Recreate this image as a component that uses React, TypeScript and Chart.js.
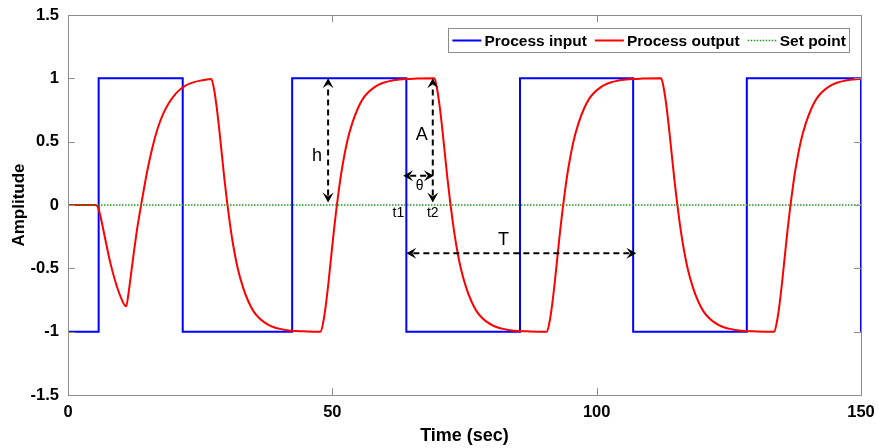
import React, { useEffect, useRef } from 'react';
import { Chart, registerables } from 'chart.js';

Chart.register(...registerables);

// ---------- data ----------
const xTickValues = [0, 50, 100, 150];
const yTickValues = [-1.5, -1, -0.5, 0, 0.5, 1, 1.5];

const inputSwitchTimes = [0, 5.8, 21.7, 42.4, 64.0, 85.5, 106.9, 128.4, 150];
const inputLevels = [-1, 1, -1, 1, -1, 1, -1, 1, -1];

const setPointTimes = [0, 150];
const setPointValues = [0, 0];

const outputTimes = [
  0, 5.2, 5.7, 6.2, 7, 8, 9, 10, 11,
  11.5, 12, 12.5, 13, 13.5, 14, 15, 16, 17, 18, 19, 20, 21, 22, 23, 24, 25, 26, 27.1,
  27.6, 28.1, 28.6, 29.1, 29.6, 30.1, 30.6, 31.1, 32.1, 33.1, 34.1, 35.1, 36.1, 37.1, 38.1, 39.1, 40.1, 41.1, 43.1, 45.1, 47.8,
  48.3, 48.8, 49.3, 49.8, 50.3, 50.8, 51.3, 51.8, 52.8, 53.8, 54.8, 55.8, 56.8, 57.8, 58.8, 59.8, 60.8, 61.8, 63.8, 65.8, 69.3,
  69.8, 70.3, 70.8, 71.3, 71.8, 72.3, 72.8, 73.3, 74.3, 75.3, 76.3, 77.3, 78.3, 79.3, 80.3, 81.3, 82.3, 83.3, 85.3, 87.3, 90.6,
  91.1, 91.6, 92.1, 92.6, 93.1, 93.6, 94.1, 94.6, 95.6, 96.6, 97.6, 98.6, 99.6, 100.6, 101.6, 102.6, 103.6, 104.6, 106.6, 108.6, 112.2,
  112.7, 113.2, 113.7, 114.2, 114.7, 115.2, 115.7, 116.2, 117.2, 118.2, 119.2, 120.2, 121.2, 122.2, 123.2, 124.2, 125.2, 126.2, 128.2, 130.2, 133.6,
  134.1, 134.6, 135.1, 135.6, 136.1, 136.6, 137.1, 137.6, 138.6, 139.6, 140.6, 141.6, 142.6, 143.6, 144.6, 145.6, 146.6, 147.6, 149.6, 150,
];

const outputValues = [
  0, 0, -0.02, -0.1, -0.26, -0.455, -0.61, -0.73, -0.8,
  -0.68, -0.52, -0.36, -0.21, -0.08, 0.04, 0.27, 0.46, 0.61, 0.72, 0.8, 0.86, 0.905, 0.937, 0.958, 0.972, 0.982, 0.989, 0.994,
  0.92, 0.78, 0.6, 0.4, 0.2, 0.02, -0.14, -0.28, -0.5, -0.65, -0.76, -0.84, -0.89, -0.925, -0.95, -0.967, -0.978, -0.986, -0.995, -0.998, -1,
  -0.92, -0.78, -0.6, -0.4, -0.2, -0.02, 0.14, 0.28, 0.5, 0.65, 0.76, 0.84, 0.89, 0.925, 0.95, 0.967, 0.978, 0.986, 0.995, 0.998, 1,
  0.92, 0.78, 0.6, 0.4, 0.2, 0.02, -0.14, -0.28, -0.5, -0.65, -0.76, -0.84, -0.89, -0.925, -0.95, -0.967, -0.978, -0.986, -0.995, -0.998, -1,
  -0.92, -0.78, -0.6, -0.4, -0.2, -0.02, 0.14, 0.28, 0.5, 0.65, 0.76, 0.84, 0.89, 0.925, 0.95, 0.967, 0.978, 0.986, 0.995, 0.998, 1,
  0.92, 0.78, 0.6, 0.4, 0.2, 0.02, -0.14, -0.28, -0.5, -0.65, -0.76, -0.84, -0.89, -0.925, -0.95, -0.967, -0.978, -0.986, -0.995, -0.998, -1,
  -0.92, -0.78, -0.6, -0.4, -0.2, -0.02, 0.14, 0.28, 0.5, 0.65, 0.76, 0.84, 0.89, 0.925, 0.95, 0.967, 0.978, 0.986, 0.995, 0.996,
];

// annotation arrows (data units)
const arrowStartX = [49.2, 69.0, 63.4, 64.0];
const arrowStartY = [0.02, 0.02, 0.23, -0.38];
const arrowEndX = [49.2, 69.0, 69.2, 107.5];
const arrowEndY = [1, 1, 0.23, -0.38];

const noteTexts = ['h', 'A', 'θ', 't1', 't2', 'T'];
const noteX = [47.1, 66.9, 66.5, 62.5, 69.0, 82.4];
const noteY = [0.39, 0.55, 0.15, -0.065, -0.065, -0.28];
const noteSizes = [18, 18, 14, 14, 14, 18];

const FONT = "'Liberation Sans', Arial, Helvetica, sans-serif";
const AXIS_GRAY = '#8c8c8c';

function drawArrowHead(ctx: CanvasRenderingContext2D, tx: number, ty: number, ux: number, uy: number) {
  const L = 10;
  const W = 5.5;
  const notch = 4;
  const nx = -uy;
  const ny = ux;
  ctx.beginPath();
  ctx.moveTo(tx, ty);
  ctx.lineTo(tx - L * ux + W * nx, ty - L * uy + W * ny);
  ctx.lineTo(tx - (L - notch) * ux, ty - (L - notch) * uy);
  ctx.lineTo(tx - L * ux - W * nx, ty - L * uy - W * ny);
  ctx.closePath();
  ctx.fill();
}

const decorPlugin = {
  id: 'decor',
  afterDatasetsDraw(chart: any) {
    const ctx: CanvasRenderingContext2D = chart.ctx;
    const xs = chart.scales.x;
    const ys = chart.scales.y;
    const { left, right, top, bottom } = chart.chartArea;

    // annotation arrows
    ctx.save();
    ctx.strokeStyle = '#000';
    ctx.fillStyle = '#000';
    ctx.lineWidth = 2;
    for (let i = 0; i < arrowStartX.length; i++) {
      const x1 = xs.getPixelForValue(arrowStartX[i]);
      const y1 = ys.getPixelForValue(arrowStartY[i]);
      const x2 = xs.getPixelForValue(arrowEndX[i]);
      const y2 = ys.getPixelForValue(arrowEndY[i]);
      const len = Math.hypot(x2 - x1, y2 - y1);
      const ux = (x2 - x1) / len;
      const uy = (y2 - y1) / len;
      ctx.setLineDash([6, 4]);
      ctx.beginPath();
      ctx.moveTo(x1 + ux * 7, y1 + uy * 7);
      ctx.lineTo(x2 - ux * 7, y2 - uy * 7);
      ctx.stroke();
      ctx.setLineDash([]);
      drawArrowHead(ctx, x2, y2, ux, uy);
      drawArrowHead(ctx, x1, y1, -ux, -uy);
    }
    // annotation texts
    ctx.textAlign = 'center';
    ctx.textBaseline = 'middle';
    for (let i = 0; i < noteTexts.length; i++) {
      ctx.font = `${noteSizes[i]}px ${FONT}`;
      ctx.fillText(noteTexts[i], xs.getPixelForValue(noteX[i]), ys.getPixelForValue(noteY[i]));
    }
    ctx.restore();

    // axes box and inner ticks
    ctx.save();
    ctx.strokeStyle = AXIS_GRAY;
    ctx.lineWidth = 1;
    ctx.beginPath();
    ctx.rect(Math.round(left) + 0.5, Math.round(top) + 0.5, Math.round(right - left), Math.round(bottom - top));
    ctx.stroke();
    ctx.beginPath();
    for (const t of ys.ticks) {
      const py = Math.round(ys.getPixelForValue(t.value)) + 0.5;
      ctx.moveTo(left, py);
      ctx.lineTo(left + 7, py);
      ctx.moveTo(right, py);
      ctx.lineTo(right - 7, py);
    }
    for (const t of xs.ticks) {
      const px = Math.round(xs.getPixelForValue(t.value)) + 0.5;
      ctx.moveTo(px, bottom);
      ctx.lineTo(px, bottom - 7);
      ctx.moveTo(px, top);
      ctx.lineTo(px, top + 7);
    }
    ctx.stroke();
    ctx.restore();

    // legend
    ctx.save();
    ctx.font = `bold 15.5px ${FONT}`;
    const sample = 29;
    const gapText = 3;
    const gapItem = 8;
    const padL = 4;
    const padR = 3;
    const items = chart.data.datasets.map((d: any) => d).sort((a: any, b: any) => a.legendIndex - b.legendIndex);
    let total = padL + padR;
    items.forEach((d: any, i: number) => {
      total += sample + gapText + ctx.measureText(d.label).width + (i < items.length - 1 ? gapItem : 0);
    });
    const boxRight = right - 12;
    const boxTop = top + 13;
    const boxH = 24;
    const boxLeft = boxRight - total;
    ctx.fillStyle = '#fff';
    ctx.fillRect(boxLeft, boxTop, total, boxH);
    ctx.strokeStyle = AXIS_GRAY;
    ctx.lineWidth = 1;
    ctx.strokeRect(Math.round(boxLeft) + 0.5, Math.round(boxTop) + 0.5, Math.round(total), boxH);
    let cx = boxLeft + padL;
    const cy = boxTop + boxH / 2 + 0.5;
    items.forEach((d: any) => {
      ctx.strokeStyle = d.borderColor;
      ctx.lineWidth = d.borderWidth;
      ctx.setLineDash(d.borderDash || []);
      ctx.beginPath();
      ctx.moveTo(cx, cy);
      ctx.lineTo(cx + sample, cy);
      ctx.stroke();
      ctx.setLineDash([]);
      cx += sample + gapText;
      ctx.fillStyle = '#000';
      ctx.textAlign = 'left';
      ctx.textBaseline = 'middle';
      ctx.fillText(d.label, cx, cy + 1);
      cx += ctx.measureText(d.label).width + gapItem;
    });
    ctx.restore();
  },
};

export default function App() {
  const canvasRef = useRef<HTMLCanvasElement | null>(null);

  useEffect(() => {
    document.body.style.margin = '0';
    const canvas = canvasRef.current;
    if (!canvas) return;

    const inputData = inputSwitchTimes.map((t, i) => ({ x: t, y: inputLevels[i] }));
    const outputData = outputTimes.map((t, i) => ({ x: t, y: outputValues[i] }));
    const setData = setPointTimes.map((t, i) => ({ x: t, y: setPointValues[i] }));

    const chart = new Chart(canvas, {
      type: 'line',
      data: {
        datasets: [
          {
            label: 'Set point',
            data: setData,
            borderColor: '#1a9a1a',
            borderWidth: 1.5,
            borderDash: [1.5, 1.5],
            pointRadius: 0,
            order: 0,
            legendIndex: 2,
          } as any,
          {
            label: 'Process output',
            data: outputData,
            borderColor: '#ff0000',
            borderWidth: 2,
            pointRadius: 0,
            cubicInterpolationMode: 'monotone',
            order: 1,
            legendIndex: 1,
          } as any,
          {
            label: 'Process input',
            data: inputData,
            borderColor: '#0000ff',
            borderWidth: 2,
            pointRadius: 0,
            stepped: 'before',
            order: 2,
            legendIndex: 0,
          } as any,
        ],
      },
      options: {
        animation: false,
        responsive: false,
        maintainAspectRatio: false,
        layout: { padding: { top: 15, right: 18, left: 0, bottom: 0 } },
        plugins: {
          legend: { display: false },
          tooltip: { enabled: false },
        },
        scales: {
          x: {
            type: 'linear',
            min: 0,
            max: 150,
            afterBuildTicks: (s: any) => {
              s.ticks = xTickValues.map((v) => ({ value: v }));
            },
            afterFit: (s: any) => {
              s.height = 53;
              s.paddingLeft = 0;
              s.paddingRight = 0;
            },
            grid: { display: false, drawTicks: false },
            border: { display: false },
            ticks: {
              color: '#000',
              padding: 8,
              font: { family: FONT, size: 16.5, weight: 'bold' },
              maxRotation: 0,
              callback: (v: any) => String(v),
            },
            title: {
              display: true,
              text: 'Time (sec)',
              color: '#000',
              font: { family: FONT, size: 18, weight: 'bold' },
              padding: { top: 0, bottom: 1 },
            },
          },
          y: {
            type: 'linear',
            min: -1.5,
            max: 1.5,
            afterBuildTicks: (s: any) => {
              s.ticks = yTickValues.map((v) => ({ value: v }));
            },
            afterFit: (s: any) => {
              s.width = 68;
              s.paddingTop = 0;
              s.paddingBottom = 0;
            },
            grid: { display: false, drawTicks: false },
            border: { display: false },
            ticks: {
              color: '#000',
              padding: 9,
              font: { family: FONT, size: 16.5, weight: 'bold' },
              callback: (v: any) => String(v),
            },
            title: {
              display: true,
              text: 'Amplitude',
              color: '#000',
              font: { family: FONT, size: 17, weight: 'bold' },
              padding: { top: 9, bottom: 0 },
            },
          },
        },
      } as any,
      plugins: [decorPlugin],
    });

    return () => {
      chart.destroy();
    };
  }, []);

  return (
    <div style={{ position: 'absolute', left: 0, top: 0, width: 879, height: 448, background: '#fff' }}>
      <canvas ref={canvasRef} width={879} height={448} style={{ display: 'block' }} />
    </div>
  );
}
